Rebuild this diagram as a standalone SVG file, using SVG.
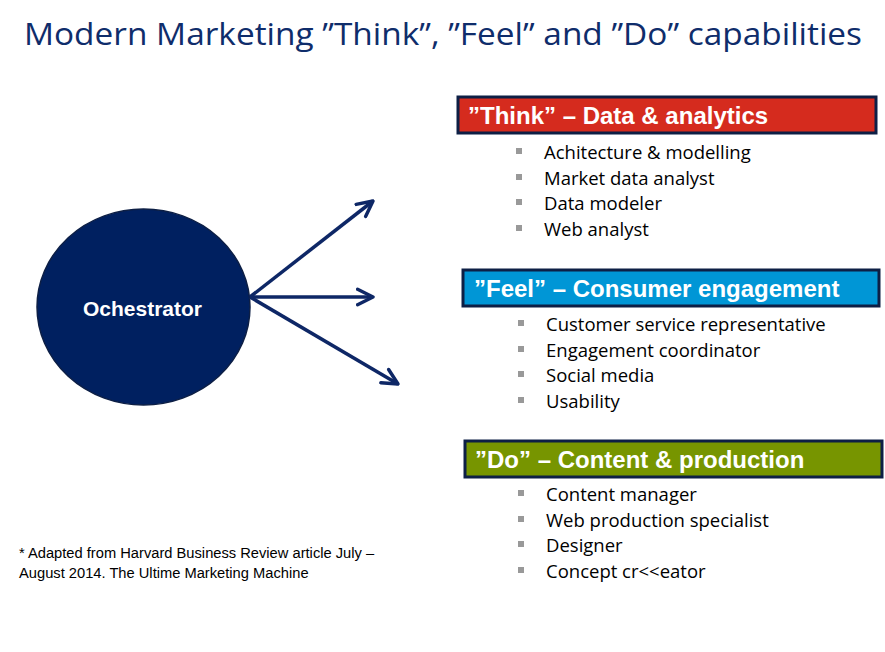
<svg xmlns="http://www.w3.org/2000/svg" width="885" height="652" viewBox="0 0 885 652">
<style>
.title{font-family:"Open Sans","Noto Sans",sans-serif;font-size:31px;fill:#0F2D6B}
.hdr{font-family:"Liberation Sans",Arial,sans-serif;font-weight:bold;font-size:24px;fill:#fff}
.item{font-family:"Open Sans","Noto Sans",sans-serif;font-size:18.5px;fill:#000}
.bul{fill:#999}
.box{stroke:#0D1F45;stroke-width:3}
.conn{stroke:#0E2766;stroke-width:3.5;fill:none}
.foot{font-family:"Liberation Sans",Arial,sans-serif;font-size:14.7px;fill:#000}
</style>
<defs>
<marker id="ah" viewBox="0 0 10 10" refX="9" refY="5" markerWidth="5.5" markerHeight="5.5" orient="auto" markerUnits="strokeWidth">
<path d="M1,1 L9,5 L1,9" fill="none" stroke="#0E2766" stroke-width="1.8" stroke-linecap="round" stroke-linejoin="round"/>
</marker>
</defs>
<rect width="885" height="652" fill="#fff"/>
<text class="title" x="24" y="45" textLength="838" lengthAdjust="spacingAndGlyphs">Modern Marketing ”Think”, ”Feel” and ”Do” capabilities</text>

<g id="orchestrator">
<ellipse cx="143.5" cy="307" rx="106.5" ry="98" fill="#002060" stroke="#0D1F45" stroke-width="1.5"/>
<text x="142.5" y="316" text-anchor="middle" font-family="Liberation Sans,Arial,sans-serif" font-weight="bold" font-size="21" fill="#fff">Ochestrator</text>
</g>

<g id="connectors">
<line class="conn" x1="250" y1="297" x2="373" y2="201" marker-end="url(#ah)"/>
<line class="conn" x1="250" y1="297" x2="373" y2="297" marker-end="url(#ah)"/>
<line class="conn" x1="250" y1="297" x2="398" y2="384" marker-end="url(#ah)"/>
</g>

<g id="think">
<rect class="box" x="458" y="97" width="418" height="36" fill="#D52B1E"/>
<text class="hdr" x="468" y="124">”Think” – Data &amp; analytics</text>
<rect class="bul" x="516" y="148" width="6" height="6"/>
<rect class="bul" x="516" y="174" width="6" height="6"/>
<rect class="bul" x="516" y="199" width="6" height="6"/>
<rect class="bul" x="516" y="225" width="6" height="6"/>
<text class="item" x="544" y="159">Achitecture &amp; modelling</text>
<text class="item" x="544" y="185">Market data analyst</text>
<text class="item" x="544" y="210">Data modeler</text>
<text class="item" x="544" y="236">Web analyst</text>
</g>

<g id="feel">
<rect class="box" x="463" y="270" width="416" height="36" fill="#0096D6"/>
<text class="hdr" x="474" y="297">”Feel” – Consumer engagement</text>
<rect class="bul" x="518" y="320" width="6" height="6"/>
<rect class="bul" x="518" y="346" width="6" height="6"/>
<rect class="bul" x="518" y="371" width="6" height="6"/>
<rect class="bul" x="518" y="397" width="6" height="6"/>
<text class="item" x="546" y="331">Customer service representative</text>
<text class="item" x="546" y="357">Engagement coordinator</text>
<text class="item" x="546" y="382">Social media</text>
<text class="item" x="546" y="408">Usability</text>
</g>

<g id="do">
<rect class="box" x="465" y="441" width="417" height="36" fill="#779500"/>
<text class="hdr" x="475" y="468">”Do” – Content &amp; production</text>
<rect class="bul" x="518" y="490" width="6" height="6"/>
<rect class="bul" x="518" y="516" width="6" height="6"/>
<rect class="bul" x="518" y="541" width="6" height="6"/>
<rect class="bul" x="518" y="567" width="6" height="6"/>
<text class="item" x="546" y="501">Content manager</text>
<text class="item" x="546" y="527">Web production specialist</text>
<text class="item" x="546" y="552">Designer</text>
<text class="item" x="546" y="578">Concept cr&lt;&lt;eator</text>
</g>

<g id="footnote">
<text class="foot" x="19" y="558">* Adapted from Harvard Business Review article July –</text>
<text class="foot" x="19" y="578">August 2014. The Ultime Marketing Machine</text>
</g>
</svg>
